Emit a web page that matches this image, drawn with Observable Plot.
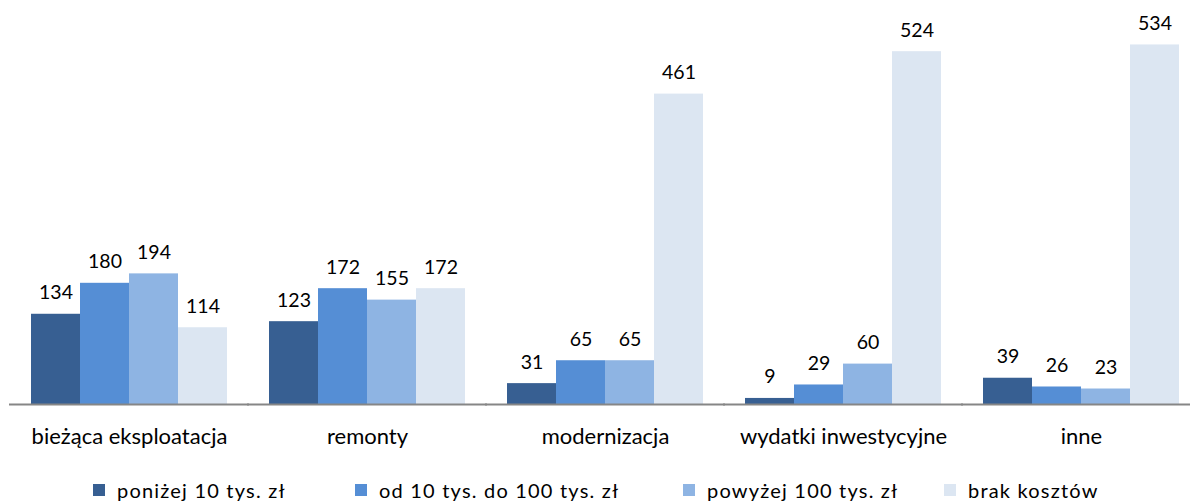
<!DOCTYPE html>
<html>
<head>
<meta charset="utf-8">
<script src="https://cdn.jsdelivr.net/npm/d3@7"></script>
<script src="https://cdn.jsdelivr.net/npm/@observablehq/plot@0.6"></script>
<style>
  html, body { margin: 0; padding: 0; background: #fff; overflow: hidden; }
  body { width: 1190px; height: 504px; font-family: Lato, "Open Sans", sans-serif; }
  #legend { position: relative; height: 44px; font-size: 20px; letter-spacing: 1.2px; color: #000; }
  #legend .item { position: absolute; top: 18px; display: flex; align-items: center; white-space: nowrap; }
  #legend .sw { width: 12px; height: 12px; margin-right: 12px; display: inline-block; }
</style>
</head>
<body>
<div id="chart"></div>
<div id="legend"></div>
<script>
const categories = ["bieżąca eksploatacja", "remonty", "modernizacja", "wydatki inwestycyjne", "inne"];
const series = ["poniżej 10 tys. zł", "od 10 tys. do 100 tys. zł", "powyżej 100 tys. zł", "brak kosztów"];
const colors = ["#375F92", "#558ED5", "#8EB4E3", "#DCE6F2"];
const valsBelow10 = [134, 123, 31, 9, 39];
const vals10to100 = [180, 172, 65, 29, 26];
const valsAbove100 = [194, 155, 65, 60, 23];
const valsNone = [114, 172, 461, 524, 534];
const legendLeft = [93, 355, 683, 944];

const seriesValues = [valsBelow10, vals10to100, valsAbove100, valsNone];
const data = [];
categories.forEach((c, i) => {
  series.forEach((s, j) => {
    data.push({cat: c, series: s, value: seriesValues[j][i]});
  });
});

const chart = Plot.plot({
  width: 1190,
  height: 460,
  marginTop: 0,
  marginBottom: 56,
  marginLeft: 10,
  marginRight: 0,
  style: {fontFamily: "Lato, 'Open Sans', sans-serif", fontSize: "20px", color: "#000", background: "#fff"},
  fx: {domain: categories, range: [10, 1200], paddingInner: 0.168, paddingOuter: 0.084, label: null},
  x: {domain: series, padding: 0, axis: null},
  y: {domain: [0, 600], axis: null},
  color: {domain: series, range: colors},
  marks: [
    Plot.barY(data, {fx: "cat", x: "series", y: "value", fill: "series"}),
    Plot.text(data, {fx: "cat", x: "series", y: "value", text: d => String(d.value), dy: -15, lineAnchor: "bottom", fontSize: 19.5, letterSpacing: 0.5, fill: "#000"}),
    Plot.ruleY([0], {stroke: "#868686", strokeWidth: 2, insetLeft: -21, insetRight: -21}),
    Plot.axisFx({anchor: "bottom", tickSize: 0, tickPadding: 24, fontSize: 22, letterSpacing: 1.7, label: null})
  ]
});
document.getElementById("chart").appendChild(chart);

const legend = document.getElementById("legend");
series.forEach((s, j) => {
  const item = document.createElement("div");
  item.className = "item";
  item.style.left = legendLeft[j] + "px";
  const sw = document.createElement("span");
  sw.className = "sw";
  sw.style.background = colors[j];
  const t = document.createElement("span");
  t.textContent = s;
  item.appendChild(sw);
  item.appendChild(t);
  legend.appendChild(item);
});
</script>
</body>
</html>
